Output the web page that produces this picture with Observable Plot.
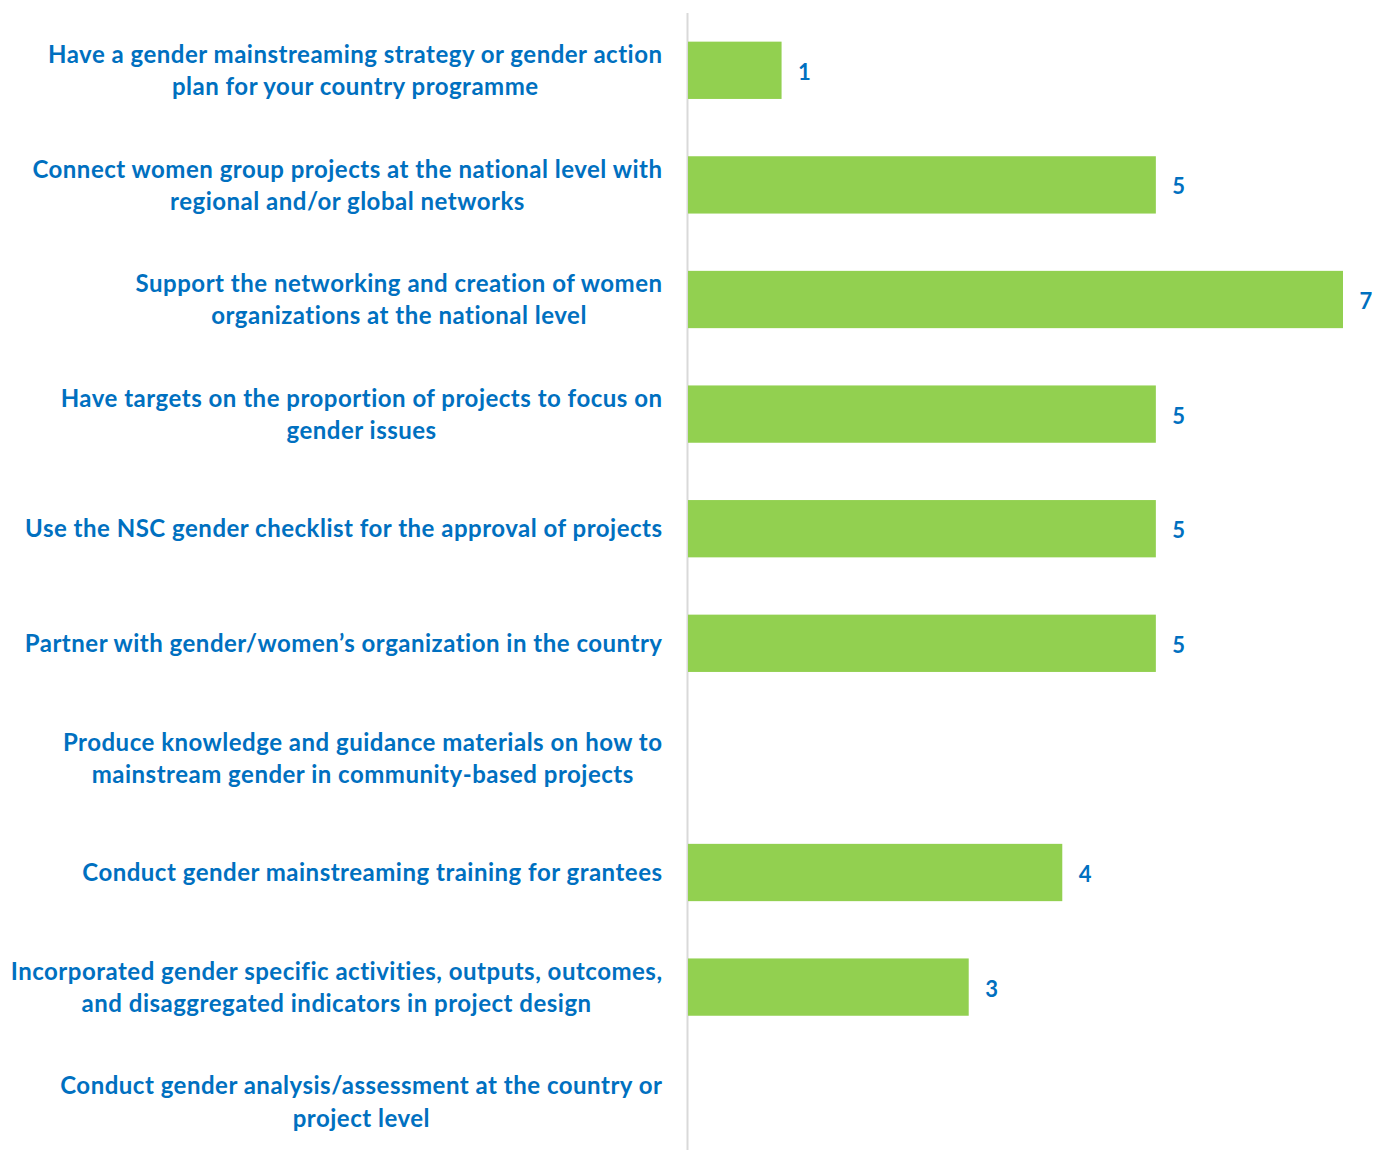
<!DOCTYPE html>
<html>
<head>
<meta charset="utf-8">
<script src="https://cdn.jsdelivr.net/npm/d3@7"></script>
<script src="https://cdn.jsdelivr.net/npm/@observablehq/plot@0.6"></script>
<style>
  html, body { margin: 0; padding: 0; background: #fff; }
  #chart svg { display: block; }
</style>
</head>
<body>
<div id="chart"></div>
<script>
const categories = [
  "Have a gender mainstreaming strategy or gender action\nplan for your country programme",
  "Connect women group projects at the national level with\nregional and/or global networks",
  "Support the networking and creation of women\norganizations at the national level",
  "Have targets on the proportion of projects to focus on\ngender issues",
  "Use the NSC gender checklist for the approval of projects",
  "Partner with gender/women’s organization in the country",
  "Produce knowledge and guidance materials on how to\nmainstream gender in community-based projects",
  "Conduct gender mainstreaming training for grantees",
  "Incorporated gender specific activities, outputs, outcomes,\nand disaggregated indicators in project design",
  "Conduct gender analysis/assessment at the country or\nproject level"
];
const values = [1, 5, 7, 5, 5, 5, null, 4, 3, null];

const data = categories.map((c, i) => ({category: c, value: values[i]}));
const withValue = data.filter(d => d.value != null && d.value > 0);

const blue = "#0070C0";
const green = "#92D050";
const font = "Lato, 'Open Sans', sans-serif";

const chart = Plot.plot({
  width: 1375,
  height: 1150,
  marginLeft: 688,
  marginRight: 32,
  marginTop: 13,
  marginBottom: 0,
  style: {fontFamily: font, background: "#fff"},
  x: {domain: [0, 7], axis: null},
  y: {domain: categories, range: [13, 1159], paddingInner: 0.5, paddingOuter: 0.25, round: false, axis: null},
  marks: [
    Plot.ruleX([0], {stroke: "#d9d9d9", strokeWidth: 2, dx: -1}),
    Plot.barX(withValue, {x: "value", y: "category", fill: green}),
    Plot.text(withValue, {
      x: "value", y: "category", text: d => String(d.value),
      textAnchor: "start", dx: 16, dy: 2, fill: blue, fontWeight: "bold", fontSize: 22
    }),
    Plot.text(data, {
      x: 0, y: "category", text: "category",
      textAnchor: "end", lineAnchor: "middle", lineHeight: 1.34,
      dx: -26, dy: -2, fill: blue, fontWeight: "bold", fontSize: 24, className: "cat-labels"
    })
  ]
});
document.getElementById("chart").appendChild(chart);
chart.querySelectorAll(".cat-labels text").forEach(t => t.style.letterSpacing = "0.5px");

// center lines within each right-aligned label block
chart.querySelectorAll(".cat-labels text").forEach(t => {
  const spans = t.querySelectorAll("tspan");
  if (spans.length < 2) return;
  let maxW = 0;
  spans.forEach(s => { maxW = Math.max(maxW, s.getComputedTextLength()); });
  t.setAttribute("text-anchor", "middle");
  spans.forEach(s => s.setAttribute("x", -maxW / 2));
});
</script>
</body>
</html>
